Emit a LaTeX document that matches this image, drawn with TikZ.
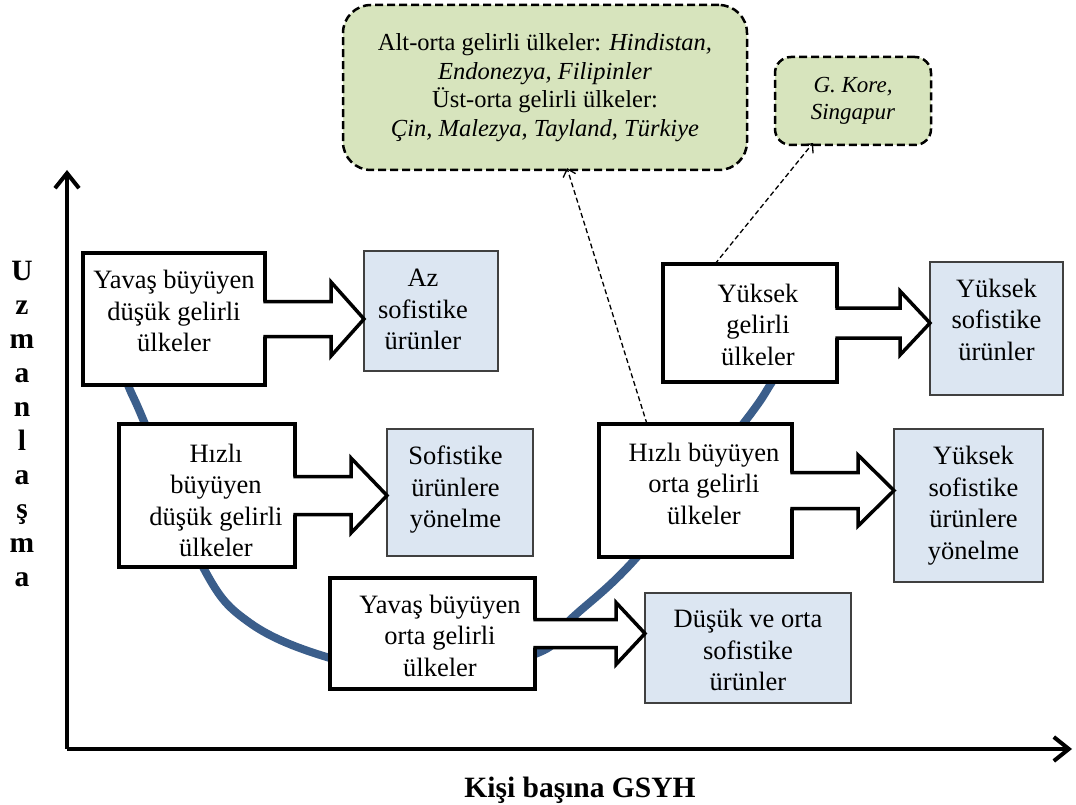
\documentclass[tikz,border=0pt]{standalone}
\usepackage{fontspec}
\setmainfont{Liberation Serif}
\usetikzlibrary{calc,arrows.meta}
\definecolor{bluefill}{RGB}{220,230,242}
\definecolor{greenfill}{RGB}{215,228,189}
\definecolor{curveblue}{RGB}{59,94,139}
\definecolor{blueborder}{RGB}{64,64,64}
\newcommand\mainfs{\fontsize{26.5}{31.5}\selectfont}
\newcommand\greenfs{\fontsize{24.5}{28.5}\selectfont}
\newcommand\smallgreenfs{\fontsize{23}{27.5}\selectfont}
\newcommand\axisfs{\fontsize{29.5}{34}\selectfont\bfseries}
% text block shifted right by #1 and raised by #2
\newcommand\tx[3]{\raisebox{#2}[\height][\depth]{\makebox[0pt]{\hspace*{#1}\hspace*{#1}\begin{tabular}{@{}c@{}}#3\end{tabular}}}}
\newcommand\blockarr[5]{%
  \coordinate (tip) at (#1.east -| #2.west);
  \fill[white] ($(#1.east)+(-2,-#3)$) -- ($(tip)+(-#5,-#3)$) -- ($(tip)+(-#5,-#4)$) -- (tip)
     -- ($(tip)+(-#5,#4)$) -- ($(tip)+(-#5,#3)$) -- ($(#1.east)+(-2,#3)$) -- cycle;
  \draw[arrowline] ($(#1.east)+(-1.75,-#3)$) -- ($(tip)+(-#5,-#3)$) -- ($(tip)+(-#5,-#4)$) -- (tip)
     -- ($(tip)+(-#5,#4)$) -- ($(tip)+(-#5,#3)$) -- ($(#1.east)+(-1.75,#3)$);
}
\begin{document}
\begin{tikzpicture}[x=1pt,y=-1pt,
  wbox/.style={draw, line width=3.5pt, fill=white, outer sep=0pt, inner sep=0pt, font=\mainfs},
  bbox/.style={draw=blueborder, line width=1.5pt, fill=bluefill, outer sep=0pt, inner sep=0pt, font=\mainfs},
  gbox/.style={draw, dash pattern=on 8pt off 4pt, line width=2.5pt, fill=greenfill, outer sep=0pt, inner sep=0pt, align=center},
  arrowline/.style={line width=3.5pt, line join=miter},
  axisline/.style={line width=4pt, -{Straight Barb[length=15pt,width=24pt]}},
  dasharr/.style={line width=1.3pt, dash pattern=on 5pt off 3pt, -{Straight Barb[length=7pt,width=13pt,line width=1.3pt]}},
  curve/.style={curveblue, line width=8pt}
]
\useasboundingbox (0,0) rectangle (1076,805);

% axes
\coordinate (O) at (67,749);
\coordinate (ytop) at (67,170);
\coordinate (xend) at (1072,749);
\draw[axisline] (O) -- (ytop);
\draw[axisline] (O) -- (xend);
\node[font=\axisfs, align=center] (ylab) at (22,424) {U\\z\\m\\a\\n\\l\\a\\ş\\m\\a};
\node[font=\axisfs, anchor=base] (xlab) at (580,797) {Kişi başına GSYH};

% curve
\draw[curve] plot[smooth, tension=0.6] coordinates {(112,340) (128,385) (145,424) (203,567) (250,623) (330,658) (435,678) (540,652) (570,620) (637,557) (743,424) (772,382) (795,345)};

% white boxes
\node[wbox, minimum width=182pt, minimum height=132pt] (b1) at (174,319) {\tx{0pt}{5.3pt}{Yavaş büyüyen\\düşük gelirli\\ülkeler}};
\node[wbox, minimum width=176pt, minimum height=143pt] (b2) at (207,495.5) {\tx{9pt}{-7.7pt}{Hızlı\\büyüyen\\düşük gelirli\\ülkeler}};
\node[wbox, minimum width=205pt, minimum height=111pt] (b3) at (432.5,633.5) {\tx{7.5pt}{-4.7pt}{Yavaş büyüyen\\orta gelirli\\ülkeler}};
\node[wbox, minimum width=193pt, minimum height=133pt] (b4) at (695.5,490.5) {\tx{8.5pt}{4.3pt}{Hızlı büyüyen\\orta gelirli\\ülkeler}};
\node[wbox, minimum width=174pt, minimum height=118pt] (b5) at (750,323) {\tx{8pt}{-4.2pt}{Yüksek\\gelirli\\ülkeler}};

% blue boxes
\node[bbox, minimum width=134pt, minimum height=120pt] (p1) at (431,311) {\tx{-8pt}{-0.7pt}{Az\\sofistike\\ürünler}};
\node[bbox, minimum width=146pt, minimum height=127pt] (p2) at (460,492.5) {\tx{-4.5pt}{2.5pt}{Sofistike\\ürünlere\\yönelme}};
\node[bbox, minimum width=206pt, minimum height=110pt] (p3) at (748,648) {\tx{0pt}{-4.7pt}{Düşük ve orta\\sofistike\\ürünler}};
\node[bbox, minimum width=149pt, minimum height=153pt] (p4) at (968.5,505.5) {\tx{5pt}{0pt}{Yüksek\\sofistike\\ürünlere\\yönelme}};
\node[bbox, minimum width=133pt, minimum height=133pt] (p5) at (996.5,328.5) {\tx{0pt}{6.3pt}{Yüksek\\sofistike\\ürünler}};

% block arrows
\blockarr{b1}{p1}{17.5}{37}{33}
\blockarr{b2}{p2}{19}{37.5}{36}
\blockarr{b3}{p3}{14}{31}{29}
\blockarr{b4}{p4}{18}{35.5}{36}
\blockarr{b5}{p5}{15}{32}{30}

% green boxes
\node[gbox, rounded corners=28pt, minimum width=404pt, minimum height=165pt, font=\greenfs] (g1) at (545,87.5)
  {Alt-orta gelirli ülkeler: \textit{Hindistan,}\\\textit{Endonezya, Filipinler}\\Üst-orta gelirli ülkeler:\\\textit{Çin, Malezya, Tayland, Türkiye}};
\node[gbox, rounded corners=16pt, minimum width=156pt, minimum height=88pt, font=\smallgreenfs] (g2) at (853,101)
  {\textit{G. Kore,}\\\textit{Singapur}};

% dashed arrows
\draw[dasharr] ($(b4.north west)+(48,0)$) -- ($(g1.south)+(22,-2)$);
\draw[dasharr] ($(b5.north west)+(52,0)$) -- ($(g2.south)+(-40,-2)$);
\end{tikzpicture}
\end{document}
